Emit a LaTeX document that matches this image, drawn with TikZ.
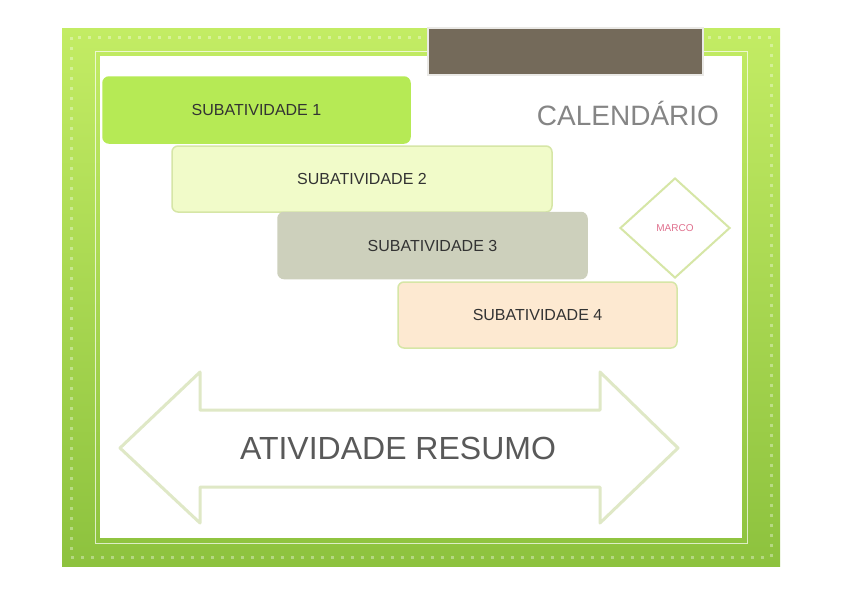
\documentclass[tikz,border=0pt]{standalone}
\usepackage{fontspec}
\setmainfont{Liberation Sans}
\usetikzlibrary{shapes.geometric}

\definecolor{framelight}{HTML}{C3EC64}
\definecolor{framedark}{HTML}{8DC23E}
\definecolor{titlebrown}{HTML}{746A5A}
\definecolor{subgreen}{HTML}{B6EA55}
\definecolor{subpale}{HTML}{F1FBC9}
\definecolor{subgray}{HTML}{CDD0BC}
\definecolor{subpeach}{HTML}{FDE9D1}
\definecolor{edgegreen}{HTML}{D6E6A6}
\definecolor{arrowedge}{HTML}{DFE8C6}
\definecolor{milestonered}{HTML}{E0708E}

\tikzset{
  subbox/.style={rounded corners=6pt, line width=1.5pt, inner sep=0pt,
    minimum height=66pt, text=black!80, font=\fontsize{16}{16}\selectfont},
}

\begin{document}
\begin{tikzpicture}[x=1pt, y=-1pt]
  \useasboundingbox (0,0) rectangle (842,595);
  \fill[white] (0,0) rectangle (842,595);

  % Green frame
  \shade[top color=framelight, bottom color=framedark] (62,28) rectangle (780,566);
  \draw[white, opacity=0.35, line width=3pt, dash pattern=on 3pt off 7pt]
    (71,37) rectangle (771,557);
  \draw[white, opacity=0.7, line width=1pt] (95,51) rectangle (747,543);
  \fill[white] (100,56) rectangle (742,538);

  % Title bar
  \node[fill=titlebrown, draw=white!85!titlebrown, line width=2pt,
    minimum width=275pt, minimum height=47pt] (title) at (565.5,51.5) {};

  \node[text=black!48, font=\fontsize{28}{28}\selectfont] (cal) at (628,113) {CALENDÁRIO};

  % Subactivities
  \foreach \i/\cx/\cy/\w/\col/\edge in {
    1/256.5/110/307/subgreen/subgreen,
    2/362/179/380/subpale/edgegreen,
    3/432.5/245.5/309/subgray/subgray,
    4/537.5/315/279/subpeach/edgegreen}{
    \node[subbox, fill=\col, draw=\edge, minimum width=\w pt] (sub\i) at (\cx,\cy)
      {SUBATIVIDADE \i};
  }

  % Milestone
  \node[diamond, draw=edgegreen, line width=2pt, fill=white, inner sep=0pt,
    minimum width=110pt, minimum height=100pt, text=milestonered,
    font=\fontsize{10}{10}\selectfont] (marco) at (675,228) {MARCO};

  % Summary arrow
  \draw[arrowedge, line width=3pt, fill=white, line join=round]
    (120,448) -- (200,372) -- (200,410) -- (600,410) -- (600,372) -- (678,448)
    -- (600,523) -- (600,487) -- (200,487) -- (200,523) -- cycle;
  \node[text=black!65, font=\fontsize{32}{32}\selectfont] (resumo) at (398,448)
    {ATIVIDADE RESUMO};
\end{tikzpicture}
\end{document}
